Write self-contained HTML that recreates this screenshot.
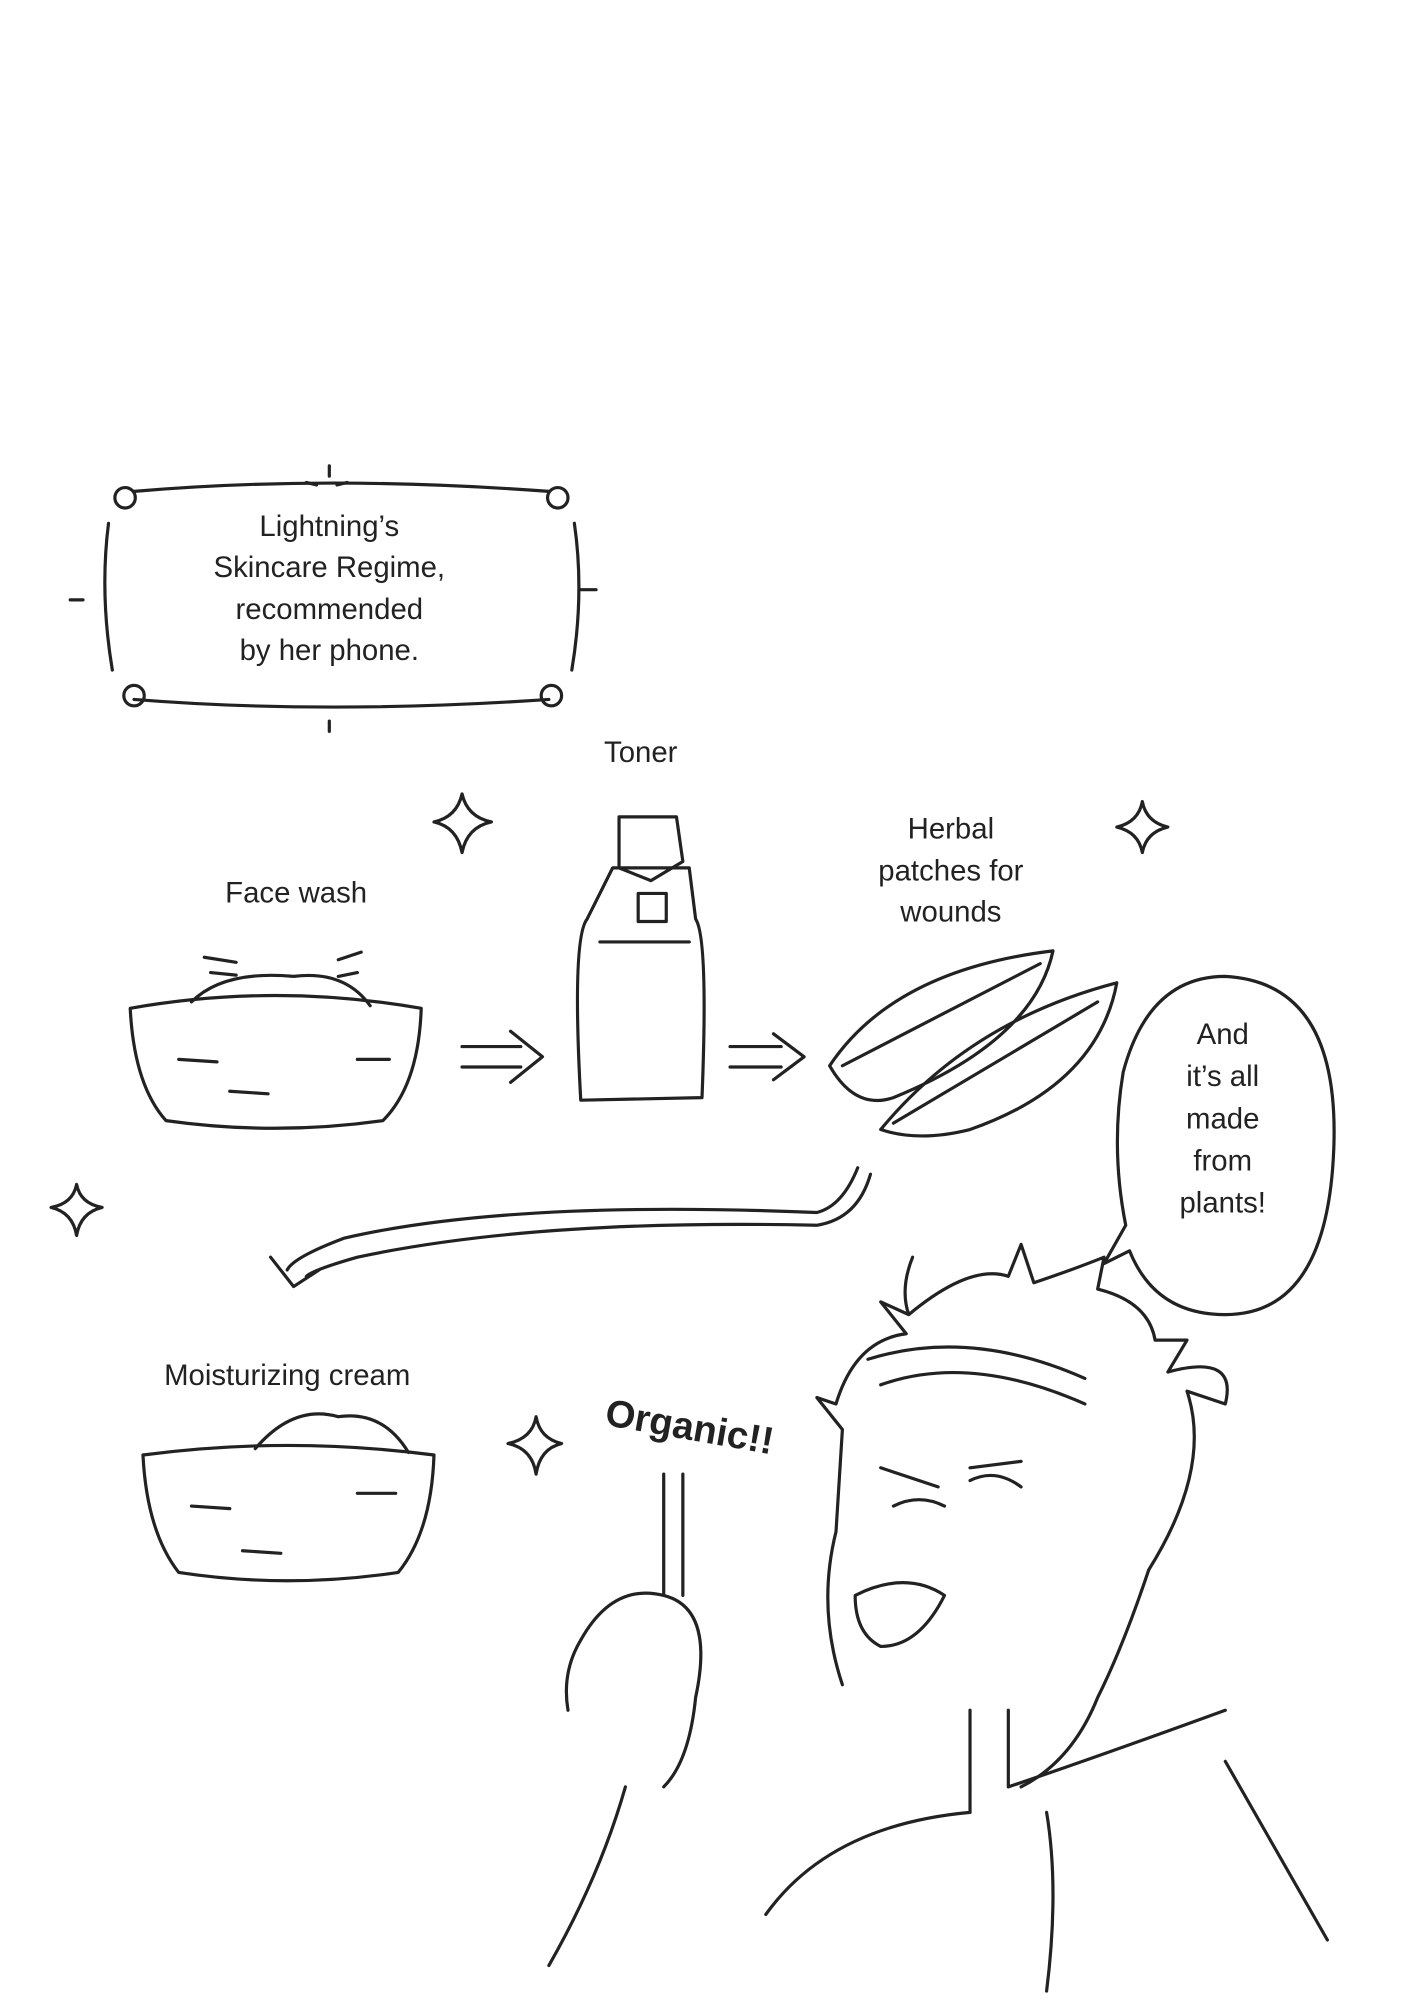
<!DOCTYPE html>
<html><head><meta charset="utf-8"><style>
html,body{margin:0;padding:0;background:#fff;}
svg{display:block;}
text{font-family:"Liberation Sans",sans-serif;fill:#222;}
</style></head><body>
<svg width="1404" height="2000" viewBox="0 0 1100 1567" xmlns="http://www.w3.org/2000/svg">
<rect width="1100" height="1567" fill="#fff"/>
<g fill="none" stroke="#222" stroke-width="2.5" stroke-linecap="round" stroke-linejoin="round">
<!-- frame -->
<path d="M105 385 Q255 372 430 385 M105 548 Q255 560 430 548 M85 410 Q78 465 88 525 M450 410 Q458 465 448 525"/>
<circle cx="98" cy="390" r="8"/><circle cx="437" cy="390" r="8"/><circle cx="105" cy="545" r="8"/><circle cx="432" cy="545" r="8"/>
<path d="M258 365 l0 8 M240 378 l8 2 M272 378 l-8 2 M258 565 l0 8 M55 470 l10 0 M455 462 l12 0"/>
<!-- sparkles -->
<path d="M362 622 Q366 640 385 644 Q366 648 362 668 Q358 648 340 644 Q358 640 362 622Z"/>
<path d="M895 628 Q898 644 915 648 Q898 652 895 668 Q892 652 875 648 Q892 644 895 628Z"/>
<path d="M60 928 Q63 943 80 946 Q63 950 60 968 Q57 950 40 946 Q57 943 60 928Z"/>
<path d="M420 1110 Q423 1127 440 1131 Q423 1135 420 1155 Q417 1135 398 1131 Q417 1127 420 1110Z"/>
<!-- face wash bowl -->
<path d="M102 790 Q215 770 330 790 Q328 850 300 878 Q215 890 130 878 Q105 850 102 790Z"/>
<path d="M150 785 Q175 760 230 765 Q270 760 290 788"/>
<path d="M160 750 l25 4 M165 762 l20 2 M265 752 l18 -6 M265 765 l15 -3 M140 830 l30 2 M280 830 l25 0 M180 855 l30 2"/>
<!-- toner bottle -->
<path d="M485 640 L530 640 L535 675 L510 690 L485 680Z"/>
<path d="M480 680 L540 680 L545 720 Q555 735 550 860 L455 862 Q448 735 460 720 L480 680Z"/>
<path d="M500 700 L522 700 L522 722 L500 722Z M470 738 L540 738"/>
<!-- arrows -->
<path d="M362 820 L408 820 M362 836 L408 836 M400 808 L425 828 L400 848"/>
<path d="M572 820 L612 820 M572 836 L612 836 M606 810 L630 828 L606 846"/>
<!-- leaves -->
<path d="M650 835 Q700 760 825 745 Q810 815 700 860 Q670 870 650 835Z M660 835 L815 755"/>
<path d="M690 885 Q760 800 875 770 Q860 850 760 885 Q720 895 690 885Z M700 880 L860 785"/>
<!-- curved arrow -->
<path d="M672 915 Q660 945 640 950 Q400 940 270 970 Q230 985 225 995 M682 920 Q672 955 640 960 Q420 955 280 985 Q245 995 240 1000"/>
<path d="M212 985 L230 1008 L250 995"/>
<!-- speech bubble -->
<path d="M960 765 Q1050 770 1045 900 Q1040 1030 960 1030 Q905 1030 885 980 L865 990 L882 960 Q870 900 880 840 Q900 765 960 765Z"/>
<!-- cream bowl -->
<path d="M112 1140 Q225 1125 340 1140 Q338 1200 312 1232 Q225 1245 140 1232 Q115 1200 112 1140Z"/>
<path d="M200 1135 Q230 1100 265 1110 Q300 1105 320 1138"/>
<path d="M150 1180 l30 2 M280 1170 l30 0 M190 1215 l30 2"/>
<!-- person -->
<path d="M715 985 Q705 1010 712 1030 L690 1020 L710 1045 Q670 1050 655 1100 L640 1095 L660 1120 L655 1200 Q640 1260 660 1320 M712 1030 Q760 990 790 1000 L800 975 L810 1005 Q840 995 865 985 L860 1010 Q900 1020 905 1050 L930 1050 L915 1075 Q970 1060 960 1100 L930 1090 Q950 1150 900 1230 Q880 1290 860 1330 Q840 1380 800 1400"/>
<path d="M680 1065 Q760 1040 850 1080 M690 1085 Q760 1060 850 1100"/>
<path d="M690 1150 L735 1165 M760 1150 L800 1145 M700 1180 Q720 1170 740 1180 M760 1160 Q780 1150 800 1165"/>
<path d="M670 1250 Q710 1230 740 1250 Q720 1290 690 1290 Q670 1280 670 1250Z"/>
<path d="M520 1155 L520 1250 M535 1155 L535 1250 M455 1285 Q480 1240 520 1250 Q560 1260 545 1330 Q540 1380 520 1400 M455 1285 Q440 1310 445 1340 M490 1400 Q470 1470 430 1540"/>
<path d="M760 1340 L760 1420 M790 1340 L790 1400 Q850 1380 960 1340 M600 1500 Q650 1430 760 1420 M820 1420 Q830 1480 820 1560 M960 1380 Q1000 1450 1040 1520"/>
</g>
<g font-size="23" text-anchor="middle">
<text x="258" y="420">Lightning’s</text>
<text x="258" y="452">Skincare Regime,</text>
<text x="258" y="485">recommended</text>
<text x="258" y="517">by her phone.</text>
<text x="502" y="597">Toner</text>
<text x="232" y="707">Face wash</text>
<text x="745" y="657">Herbal</text>
<text x="745" y="690">patches for</text>
<text x="745" y="722">wounds</text>
<text x="958" y="818">And</text>
<text x="958" y="851">it’s all</text>
<text x="958" y="884">made</text>
<text x="958" y="917">from</text>
<text x="958" y="950">plants!</text>
<text x="225" y="1085">Moisturizing cream</text>
<text x="540" y="1128" font-size="30" font-weight="bold" transform="rotate(10 540 1120)">Organic!!</text>
</g>
</svg>
</body></html>
